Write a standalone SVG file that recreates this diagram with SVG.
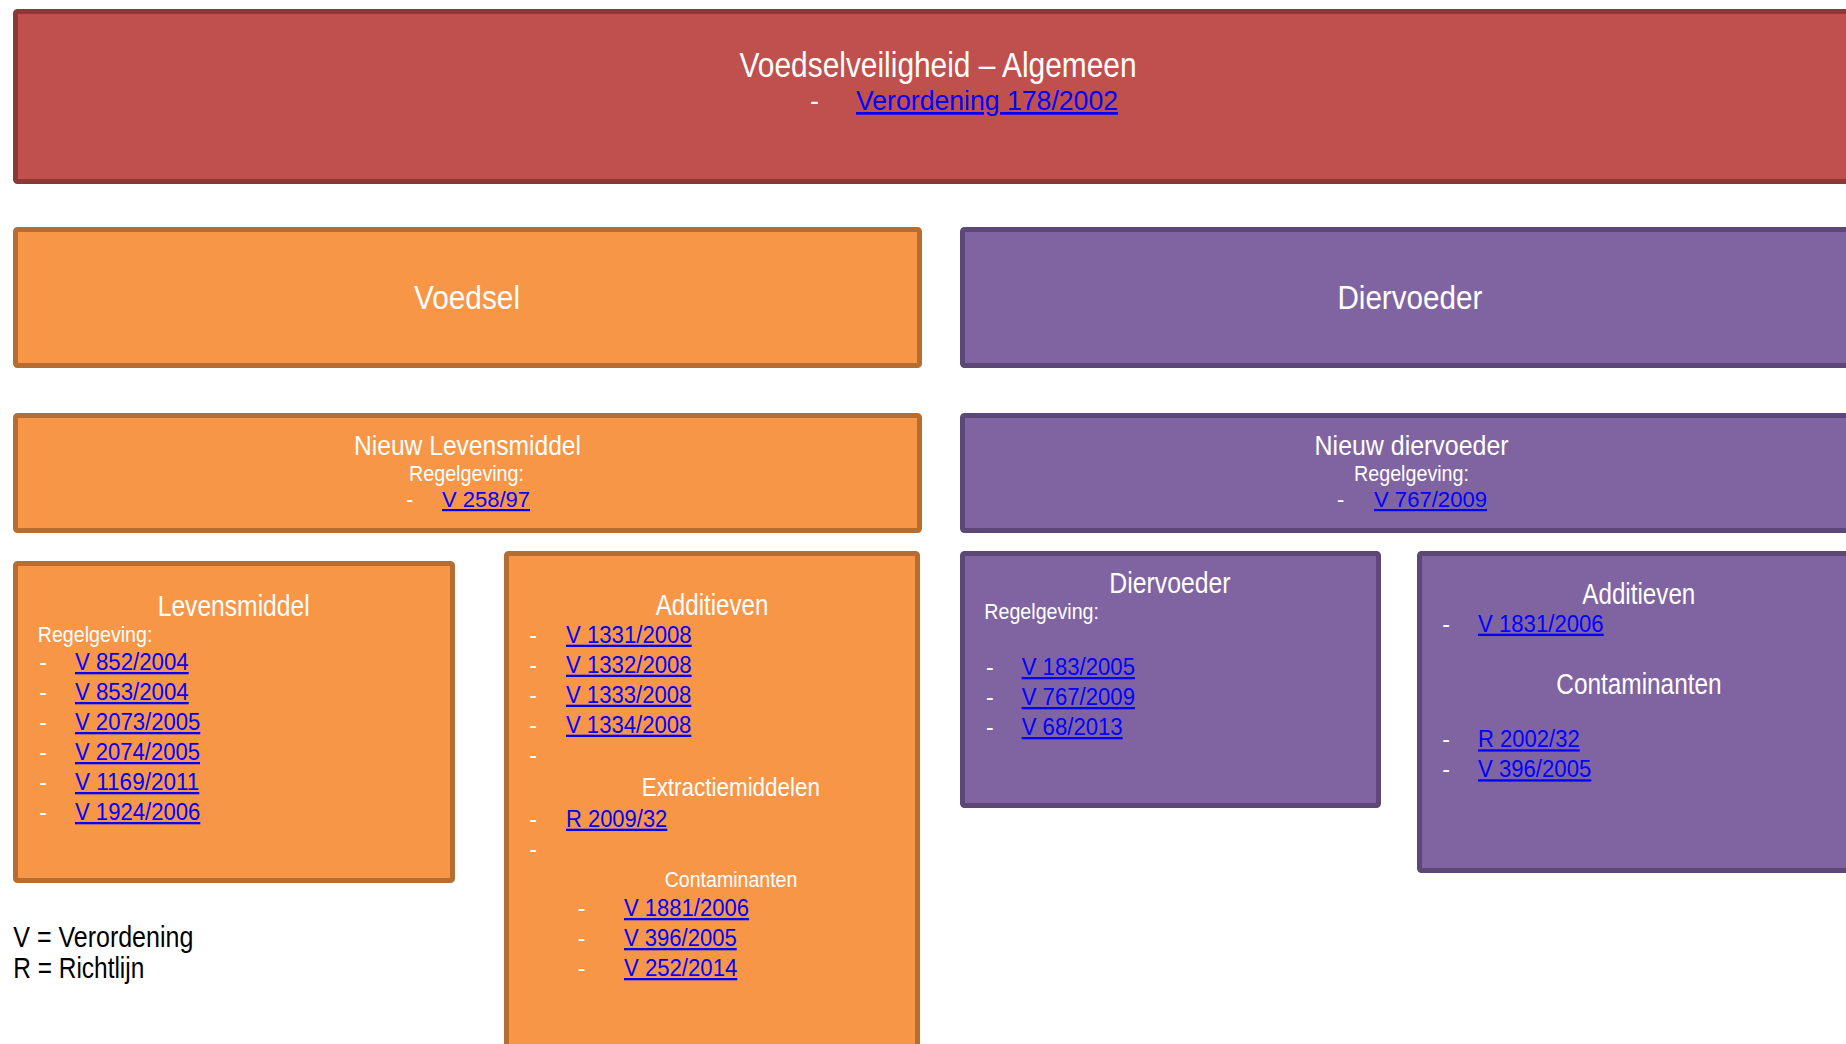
<svg xmlns="http://www.w3.org/2000/svg" width="1846" height="1044" viewBox="0 0 1846 1044">
<style>
text{font-family:"Liberation Sans Narrow","Liberation Sans",Arial,sans-serif;}
.w{fill:#FFFFFF;}
.k{fill:#000000;}
.lk{fill:#0000FF;text-decoration:underline;}
.red{fill:#C0504D;stroke:#8C3836;stroke-width:5;}
.or{fill:#F79646;stroke:#B66D31;stroke-width:5;}
.pu{fill:#8064A2;stroke:#5C4776;stroke-width:5;}
.s22{font-size:22px;}
.s23{font-size:23px;}
.s25{font-size:25px;}
.s27{font-size:27px;}
.s28{font-size:28px;}
.s29{font-size:29px;}
.s34{font-size:34px;}
.s35{font-size:35px;}
</style>
<rect width="1846" height="1044" fill="#FFFFFF"/>
<g id="connectors"/>
<g id="node-algemeen">
<rect class="red" x="15.5" y="11.5" width="1843" height="170" rx="2"/>
<text class="w s35" x="739.6" y="77" textLength="397" lengthAdjust="spacingAndGlyphs">Voedselveiligheid – Algemeen</text>
<text class="w s27" x="810" y="110">-</text>
<text class="lk s27" x="856" y="110" textLength="262" lengthAdjust="spacingAndGlyphs">Verordening 178/2002</text>
</g>
<g id="node-voedsel">
<rect class="or" x="15.5" y="229.5" width="904" height="136" rx="2"/>
<text class="w s34" x="414" y="309" textLength="106" lengthAdjust="spacingAndGlyphs">Voedsel</text>
</g>
<g id="node-diervoeder">
<rect class="pu" x="962.5" y="229.5" width="904" height="136" rx="2"/>
<text class="w s34" x="1337.4" y="309" textLength="145" lengthAdjust="spacingAndGlyphs">Diervoeder</text>
</g>
<g id="node-nieuw-levensmiddel">
<rect class="or" x="15.5" y="415.5" width="904" height="115" rx="2"/>
<text class="w s28" x="354" y="455" textLength="227" lengthAdjust="spacingAndGlyphs">Nieuw Levensmiddel</text>
<text class="w s22" x="409" y="481" textLength="115" lengthAdjust="spacingAndGlyphs">Regelgeving:</text>
<text class="w s22" x="406" y="507">-</text>
<text class="lk s22" x="442" y="507" textLength="88" lengthAdjust="spacingAndGlyphs">V 258/97</text>
</g>
<g id="node-nieuw-diervoeder">
<rect class="pu" x="962.5" y="415.5" width="904" height="115" rx="2"/>
<text class="w s28" x="1314.6" y="455" textLength="194" lengthAdjust="spacingAndGlyphs">Nieuw diervoeder</text>
<text class="w s22" x="1354" y="481" textLength="115" lengthAdjust="spacingAndGlyphs">Regelgeving:</text>
<text class="w s22" x="1337" y="507">-</text>
<text class="lk s22" x="1374" y="507" textLength="113" lengthAdjust="spacingAndGlyphs">V 767/2009</text>
</g>
<g id="node-levensmiddel">
<rect class="or" x="15.5" y="563.5" width="437" height="317" rx="2"/>
<text class="w s29" x="157.7" y="615.7" textLength="152" lengthAdjust="spacingAndGlyphs">Levensmiddel</text>
<text class="w s22" x="37.7" y="641.7" textLength="114.7" lengthAdjust="spacingAndGlyphs">Regelgeving:</text>
<text class="w s23" x="39.3" y="670">-</text>
<text class="lk s23" x="75" y="670" textLength="113.7" lengthAdjust="spacingAndGlyphs">V 852/2004</text>
<text class="w s23" x="39.3" y="700">-</text>
<text class="lk s23" x="75" y="700" textLength="113.7" lengthAdjust="spacingAndGlyphs">V 853/2004</text>
<text class="w s23" x="39.3" y="730">-</text>
<text class="lk s23" x="75" y="730" textLength="125.3" lengthAdjust="spacingAndGlyphs">V 2073/2005</text>
<text class="w s23" x="39.3" y="760">-</text>
<text class="lk s23" x="75" y="760" textLength="125" lengthAdjust="spacingAndGlyphs">V 2074/2005</text>
<text class="w s23" x="39.3" y="790">-</text>
<text class="lk s23" x="75" y="790" textLength="124.3" lengthAdjust="spacingAndGlyphs">V 1169/2011</text>
<text class="w s23" x="39.3" y="820">-</text>
<text class="lk s23" x="75" y="820" textLength="125.3" lengthAdjust="spacingAndGlyphs">V 1924/2006</text>
</g>
<g id="node-additieven-voedsel">
<rect class="or" x="506.5" y="553.5" width="411" height="500" rx="2"/>
<text class="w s29" x="655.7" y="615" textLength="112.7" lengthAdjust="spacingAndGlyphs">Additieven</text>
<text class="w s23" x="529.3" y="642.7">-</text>
<text class="lk s23" x="566" y="642.7" textLength="125.7" lengthAdjust="spacingAndGlyphs">V 1331/2008</text>
<text class="w s23" x="529.3" y="672.7">-</text>
<text class="lk s23" x="566" y="672.7" textLength="125.7" lengthAdjust="spacingAndGlyphs">V 1332/2008</text>
<text class="w s23" x="529.3" y="702.7">-</text>
<text class="lk s23" x="566" y="702.7" textLength="125.3" lengthAdjust="spacingAndGlyphs">V 1333/2008</text>
<text class="w s23" x="529.3" y="732.7">-</text>
<text class="lk s23" x="566" y="732.7" textLength="125.3" lengthAdjust="spacingAndGlyphs">V 1334/2008</text>
<text class="w s23" x="529.3" y="762.7">-</text>
<text class="w s25" x="641.7" y="796" textLength="178.3" lengthAdjust="spacingAndGlyphs">Extractiemiddelen</text>
<text class="w s23" x="529.3" y="826.7">-</text>
<text class="lk s23" x="566" y="826.7" textLength="101.3" lengthAdjust="spacingAndGlyphs">R 2009/32</text>
<text class="w s23" x="529.3" y="856.7">-</text>
<text class="w s22" x="664.7" y="886.7" textLength="132.7" lengthAdjust="spacingAndGlyphs">Contaminanten</text>
<text class="w s23" x="577.7" y="916">-</text>
<text class="lk s23" x="624" y="916" textLength="125" lengthAdjust="spacingAndGlyphs">V 1881/2006</text>
<text class="w s23" x="577.7" y="946">-</text>
<text class="lk s23" x="624" y="946" textLength="112.7" lengthAdjust="spacingAndGlyphs">V 396/2005</text>
<text class="w s23" x="577.7" y="976">-</text>
<text class="lk s23" x="624" y="976" textLength="113.3" lengthAdjust="spacingAndGlyphs">V 252/2014</text>
</g>
<g id="node-diervoeder-regels">
<rect class="pu" x="962.5" y="553.5" width="416" height="252" rx="2"/>
<text class="w s29" x="1109.3" y="592.7" textLength="121.3" lengthAdjust="spacingAndGlyphs">Diervoeder</text>
<text class="w s22" x="984.3" y="619.3" textLength="114.7" lengthAdjust="spacingAndGlyphs">Regelgeving:</text>
<text class="w s23" x="986" y="675">-</text>
<text class="lk s23" x="1021.7" y="675" textLength="113.3" lengthAdjust="spacingAndGlyphs">V 183/2005</text>
<text class="w s23" x="986" y="705">-</text>
<text class="lk s23" x="1021.7" y="705" textLength="113.3" lengthAdjust="spacingAndGlyphs">V 767/2009</text>
<text class="w s23" x="986" y="735">-</text>
<text class="lk s23" x="1021.7" y="735" textLength="101" lengthAdjust="spacingAndGlyphs">V 68/2013</text>
</g>
<g id="node-additieven-diervoeder">
<rect class="pu" x="1419.5" y="553.5" width="445" height="317" rx="2"/>
<text class="w s29" x="1582.3" y="604" textLength="113" lengthAdjust="spacingAndGlyphs">Additieven</text>
<text class="w s23" x="1442.3" y="631.7">-</text>
<text class="lk s23" x="1478" y="631.7" textLength="125.7" lengthAdjust="spacingAndGlyphs">V 1831/2006</text>
<text class="w s29" x="1556.3" y="694" textLength="165.3" lengthAdjust="spacingAndGlyphs">Contaminanten</text>
<text class="w s23" x="1442.3" y="747.3">-</text>
<text class="lk s23" x="1478" y="747.3" textLength="101.7" lengthAdjust="spacingAndGlyphs">R 2002/32</text>
<text class="w s23" x="1442.3" y="777.3">-</text>
<text class="lk s23" x="1478" y="777.3" textLength="113.3" lengthAdjust="spacingAndGlyphs">V 396/2005</text>
</g>
<g id="legend">
<text class="k s29" x="13.3" y="946.7" textLength="180" lengthAdjust="spacingAndGlyphs">V = Verordening</text>
<text class="k s29" x="13.3" y="978.3" textLength="131" lengthAdjust="spacingAndGlyphs">R = Richtlijn</text>
</g>
</svg>
